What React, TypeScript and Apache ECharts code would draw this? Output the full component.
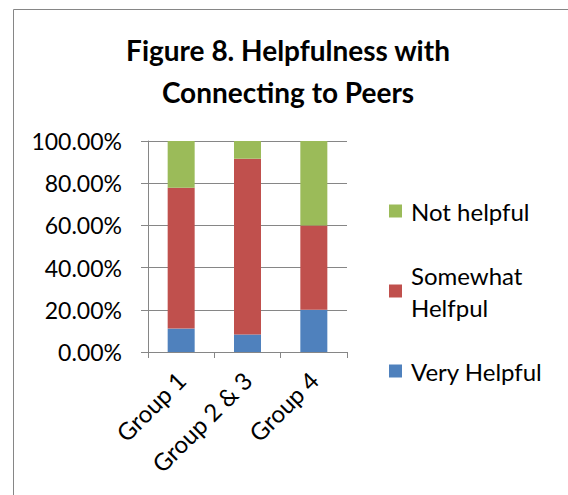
import React, { useEffect, useRef } from "react";
import * as echarts from "echarts";

const categories = ["Group 1", "Group 2 & 3", "Group 4"];
const veryHelpful = [11.1, 8.3, 20.0];
const somewhatHelpful = [66.7, 83.3, 40.0];
const notHelpful = [22.2, 8.4, 40.0];
const yTicks = { min: 0, max: 100, interval: 20 };

const FONT = "Lato";
const GRAY = "#868686";

export default function App() {
  const ref = useRef<HTMLDivElement>(null);
  useEffect(() => {
    if (!ref.current) return;
    const chart = echarts.init(ref.current, undefined, { renderer: "svg" });
    const legendText = { fontFamily: FONT, fontSize: 24, color: "#000", lineHeight: 24, padding: [0, 0, 0, 4] };
    chart.setOption({
      animation: false,
      textStyle: { fontFamily: FONT },
      title: {
        text: "Figure 8. Helpfulness with\nConnecting to Peers",
        left: 288,
        top: 29,
        textAlign: "center",
        padding: 0,
        textStyle: { fontFamily: FONT, fontSize: 28, fontWeight: "bold", color: "#000", lineHeight: 42 },
      },
      graphic: [
        {
          type: "rect",
          silent: true,
          shape: { x: 13.5, y: 9.5, width: 700, height: 700 },
          style: { fill: "none", stroke: GRAY, lineWidth: 1 },
        },
      ],
      legend: [
        {
          data: ["Not helpful"], left: 389, top: 199, padding: 0, icon: "rect",
          itemWidth: 13, itemHeight: 13, textStyle: legendText, selectedMode: false,
        },
        {
          data: ["Somewhat Helfpul"], left: 389, top: 243, padding: 0, icon: "rect",
          itemWidth: 13, itemHeight: 13, selectedMode: false,
          formatter: () => "Somewhat\nHelfpul",
          textStyle: { ...legendText, lineHeight: 32, padding: [32, 0, 0, 4] },
        },
        {
          data: ["Very Helpful"], left: 389, top: 359, padding: 0, icon: "rect",
          itemWidth: 13, itemHeight: 13, textStyle: legendText, selectedMode: false,
        },
      ],
      grid: { left: 148, right: 221, top: 141, bottom: 143, containLabel: false },
      xAxis: {
        type: "category",
        data: categories,
        axisLine: { show: true, lineStyle: { color: GRAY, width: 1 } },
        axisTick: { show: true, length: 6, lineStyle: { color: GRAY } },
        axisLabel: { rotate: 45, fontFamily: FONT, fontSize: 24, color: "#000", margin: 24, interval: 0 },
      },
      yAxis: {
        type: "value",
        min: yTicks.min,
        max: yTicks.max,
        interval: yTicks.interval,
        axisLine: { show: true, lineStyle: { color: GRAY, width: 1 } },
        axisTick: { show: true, length: 7, lineStyle: { color: GRAY } },
        splitLine: { show: true, lineStyle: { color: GRAY, width: 1 } },
        axisLabel: {
          fontFamily: FONT, fontSize: 23, color: "#000", margin: 26,
          formatter: (v: number) => v.toFixed(2) + "%",
        },
      },
      series: [
        { name: "Very Helpful", type: "bar", stack: "a", data: veryHelpful, barWidth: 27, itemStyle: { color: "#4F81BD" } },
        { name: "Somewhat Helfpul", type: "bar", stack: "a", data: somewhatHelpful, barWidth: 27, itemStyle: { color: "#C0504D" } },
        { name: "Not helpful", type: "bar", stack: "a", data: notHelpful, barWidth: 27, itemStyle: { color: "#9BBB59" } },
      ],
    });
    return () => chart.dispose();
  }, []);
  return (
    <div
      ref={ref}
      style={{ position: "absolute", left: 0, top: 0, width: 568, height: 495, background: "#fff" }}
    />
  );
}
